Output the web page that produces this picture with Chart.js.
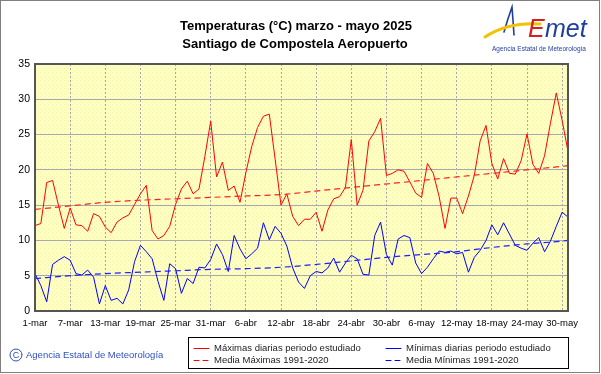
<!DOCTYPE html>
<html>
<head>
<meta charset="utf-8">
<script src="https://cdn.jsdelivr.net/npm/chart.js@4.4.1/dist/chart.umd.min.js"></script>
<style>
    html, body { margin: 0; padding: 0; background: #fff; }
    #wrap { width: 601px; height: 374px; position: relative; }
</style>
</head>
<body>
<div id="wrap"><canvas id="tempChart" width="601" height="374"></canvas></div>
<script>
// months of the period and their length
const months = [["mar", 31], ["abr", 30], ["may", 31]];
const tickLabels = ["1-mar", "7-mar", "13-mar", "19-mar", "25-mar", "31-mar", "6-abr", "12-abr",
    "18-abr", "24-abr", "30-abr", "6-may", "12-may", "18-may", "24-may", "30-may"];
const yTicks = [0, 5, 10, 15, 20, 25, 30, 35];

// daily max / min (°C)
const maxDaily = [12.1, 12.4, 18.2, 18.5, 15.0, 11.7, 14.6, 12.2, 12.1, 11.3,
    13.8, 13.4, 11.9, 11.1, 12.6, 13.2, 13.6, 15.1, 16.6, 17.8,
    11.4, 10.2, 10.7, 12.0, 15.1, 17.3, 18.4, 16.6, 17.3, 21.9,
    26.9, 19.0, 21.1, 17.1, 17.7, 15.4, 19.6, 23.3, 26.0, 27.6,
    27.9, 21.5, 15.0, 16.6, 13.4, 12.1, 13.0, 13.0, 14.0, 11.3,
    14.3, 15.9, 16.2, 17.5, 24.3, 15.0, 17.1, 24.1, 25.4, 27.3,
    19.2, 19.5, 20.0, 19.8, 18.3, 16.7, 16.1, 20.9, 19.5, 16.2,
    11.7, 16.0, 16.0, 13.8, 16.3, 19.2, 24.1, 26.3, 20.9, 18.7,
    21.6, 19.5, 19.4, 21.3, 25.1, 20.8, 19.5, 22.0, 26.6, 30.9,
    27.0, 22.6];
const minDaily = [5.3, 3.6, 1.3, 6.6, 7.2, 7.7, 7.2, 5.3, 5.1, 5.8,
    4.8, 1.0, 3.6, 1.5, 1.8, 1.0, 3.0, 7.0, 9.3, 8.4,
    7.4, 4.2, 1.5, 6.7, 6.0, 2.5, 4.6, 3.9, 6.2, 6.1,
    7.3, 9.5, 8.0, 5.6, 10.7, 8.8, 7.4, 8.1, 8.9, 12.5,
    10.1, 12.0, 11.0, 9.2, 6.1, 4.1, 3.2, 5.0, 5.6, 5.4,
    6.1, 7.5, 5.5, 6.8, 7.9, 7.4, 5.2, 5.1, 10.7, 12.6,
    8.0, 6.5, 10.2, 10.7, 10.4, 6.8, 5.3, 6.2, 7.4, 8.5,
    8.3, 8.5, 8.1, 8.3, 5.5, 7.6, 8.6, 10.0, 12.2, 10.8,
    12.5, 10.9, 9.3, 8.9, 8.6, 9.6, 10.4, 8.4, 9.9, 12.0,
    14.0, 13.3];

// 1991-2020 normals, read at these day indexes
const normDays = [0, 6, 12, 18, 24, 30, 36, 42, 48, 54, 60, 66, 72, 78, 84, 90, 91];
const normMax = [14.4, 14.9, 15.4, 15.7, 15.9, 16.1, 16.3, 16.5, 17.0, 17.5, 18.0, 18.5, 19.0, 19.5, 20.0, 20.5, 20.6];
const normMin = [4.6, 5.0, 5.3, 5.5, 5.7, 5.9, 6.0, 6.2, 6.6, 7.1, 7.6, 8.0, 8.4, 9.0, 9.5, 9.9, 10.0];

const labels = [];
months.forEach(([m, n]) => { for (let d = 1; d <= n; d++) labels.push(d + "-" + m); });

const FONT = "'Liberation Sans', Arial, sans-serif";

/*** plot background pattern ***/
const pat = document.createElement("canvas");
pat.width = 4; pat.height = 4;
const pctx = pat.getContext("2d");
pctx.fillStyle = "#FFFFC2";
pctx.fillRect(0, 0, 4, 4);
pctx.fillStyle = "#F2F2AE";
pctx.fillRect(0, 0, 1, 1);
pctx.fillRect(2, 2, 1, 1);

const decorPlugin = {
    id: "decor",
    beforeDraw(chart) {
        const { ctx, chartArea: a } = chart;
        ctx.save();
        ctx.fillStyle = "#fff";
        ctx.fillRect(0, 0, chart.width, chart.height);
        ctx.fillStyle = ctx.createPattern(pat, "repeat");
        ctx.fillRect(a.left, a.top, a.right - a.left, a.bottom - a.top);
        ctx.restore();
    },
    afterDraw(chart) {
        const { ctx, chartArea: a } = chart;
        ctx.save();
        // plot frame
        ctx.strokeStyle = "#555";
        ctx.lineWidth = 2;
        ctx.strokeRect(a.left, a.top, a.right - a.left, a.bottom - a.top);

        // titles
        ctx.fillStyle = "#000";
        ctx.textAlign = "center";
        ctx.textBaseline = "middle";
        ctx.font = "bold 13px " + FONT;
        ctx.fillText("Temperaturas (°C) marzo - mayo 2025", 296, 26);
        ctx.fillText("Santiago de Compostela Aeropuerto", 295, 44);

        // logo
        ctx.lineCap = "round";
        ctx.strokeStyle = "#1f3f9f";
        ctx.lineWidth = 1.6;
        ctx.beginPath();
        ctx.moveTo(504, 32);
        ctx.quadraticCurveTo(508, 18, 512, 7);
        ctx.quadraticCurveTo(513, 20, 514, 35);
        ctx.stroke();
        ctx.strokeStyle = "#f2c200";
        ctx.lineWidth = 3;
        ctx.beginPath();
        ctx.moveTo(485, 37);
        ctx.quadraticCurveTo(508, 22, 540, 24);
        ctx.stroke();
        ctx.textAlign = "left";
        ctx.textBaseline = "alphabetic";
        ctx.fillStyle = "#d62020";
        ctx.font = "italic 25px " + FONT;
        ctx.fillText("E", 528, 37);
        ctx.fillStyle = "#1f3f9f";
        ctx.font = "italic 25px " + FONT;
        ctx.fillText("met", 545, 37);
        ctx.font = "6.5px " + FONT;
        ctx.fillText("Agencia Estatal de Meteorología", 492, 51);

        // legend box
        ctx.strokeStyle = "#000";
        ctx.lineWidth = 1;
        ctx.strokeRect(188.5, 337.5, 380, 31);
        const rows = [
            [194, 348, "#ff0000", false, "Máximas diarias periodo estudiado"],
            [386, 348, "#0000ff", false, "Mínimas diarias periodo estudiado"],
            [194, 360, "#ff0000", true, "Media Máximas 1991-2020"],
            [386, 360, "#0000ff", true, "Media Mínimas 1991-2020"]
        ];
        ctx.font = "9.5px " + FONT;
        ctx.textBaseline = "middle";
        rows.forEach(([x, y, col, dash, txt]) => {
            ctx.strokeStyle = col;
            ctx.setLineDash(dash ? [5, 4] : []);
            ctx.beginPath();
            ctx.moveTo(x, y + 0.5);
            ctx.lineTo(x + 15, y + 0.5);
            ctx.stroke();
            ctx.fillStyle = "#222";
            ctx.fillText(txt, x + 20, y);
        });
        ctx.setLineDash([]);

        // copyright
        ctx.fillStyle = "#3050c0";
        ctx.strokeStyle = "#3050c0";
        ctx.beginPath();
        ctx.arc(16, 355, 6, 0, Math.PI * 2);
        ctx.stroke();
        ctx.font = "9px " + FONT;
        ctx.textAlign = "center";
        ctx.fillText("C", 16, 355.5);
        ctx.textAlign = "left";
        ctx.font = "9.5px " + FONT;
        ctx.fillText("Agencia Estatal de Meteorología", 26, 355);

        // outer frame
        ctx.strokeStyle = "#808080";
        ctx.strokeRect(0.5, 0.5, 599, 372);
        ctx.restore();
    }
};

const toPoints = (vals) => normDays.map((d, k) => ({ x: labels[d], y: vals[k] }));

new Chart(document.getElementById("tempChart"), {
    type: "line",
    data: {
        labels: labels,
        datasets: [
            { label: "Media Máximas 1991-2020", data: toPoints(normMax), borderColor: "#ff2020", borderWidth: 1.2,
              borderDash: [6, 4], pointRadius: 0, cubicInterpolationMode: "monotone" },
            { label: "Media Mínimas 1991-2020", data: toPoints(normMin), borderColor: "#2020ff", borderWidth: 1.2,
              borderDash: [6, 4], pointRadius: 0, cubicInterpolationMode: "monotone" },
            { label: "Máximas diarias periodo estudiado", data: maxDaily, borderColor: "#ff0000", borderWidth: 1,
              pointRadius: 0, tension: 0 },
            { label: "Mínimas diarias periodo estudiado", data: minDaily, borderColor: "#0000ff", borderWidth: 1,
              pointRadius: 0, tension: 0 }
        ]
    },
    options: {
        responsive: false,
        animation: false,
        layout: { padding: { left: 0, right: 33, top: 64, bottom: 0 } },
        plugins: { legend: { display: false }, title: { display: false }, tooltip: { enabled: false } },
        scales: {
            x: {
                type: "category",
                offset: false,
                afterFit: (s) => { s.height = 63; },
                border: { display: false, dash: [2, 2] },
                grid: {
                    drawTicks: false,
                    color: (c) => (c.index % 6 === 0 && c.index > 0) ? "#a8a8a8" : "transparent"
                },
                ticks: {
                    autoSkip: false,
                    maxRotation: 0,
                    padding: 7,
                    color: "#000",
                    font: { family: FONT, size: 9.5 },
                    callback: (v, i) => tickLabels.includes(labels[i]) ? labels[i] : ""
                }
            },
            y: {
                min: 0,
                max: 35,
                afterFit: (s) => { s.width = 35; },
                afterBuildTicks: (s) => { s.ticks = yTicks.map(v => ({ value: v })); },
                border: { display: false },
                grid: { drawTicks: false, color: "#a8a8b0" },
                ticks: { padding: 5, color: "#000", font: { family: FONT, size: 10.5 } }
            }
        }
    },
    plugins: [decorPlugin]
});
</script>
</body>
</html>
